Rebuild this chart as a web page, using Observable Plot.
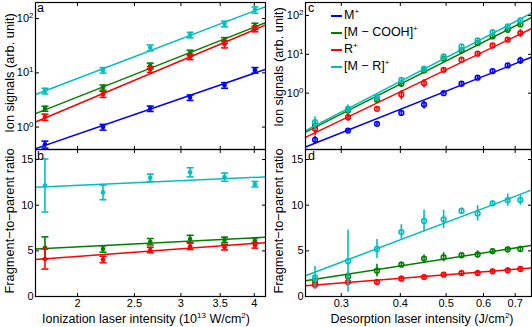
<!DOCTYPE html>
<html><head><meta charset="utf-8">
<script src="https://cdn.jsdelivr.net/npm/d3@7"></script>
<script src="https://cdn.jsdelivr.net/npm/@observablehq/plot@0.6"></script>
<style>
body{margin:0;background:#fff}
#wrap{position:relative;width:532px;height:327px;font-family:"Liberation Sans",Arial,sans-serif;overflow:hidden;background:#fff}
#wrap svg{position:absolute;left:0;top:0}
.t{position:absolute;white-space:nowrap;color:#000;font-size:12.5px;line-height:1}
.t sup{font-size:8px;vertical-align:0;position:relative;top:-5px}
.rot{transform:translate(-50%,-50%) rotate(-90deg);font-size:12.8px}
.hx{transform:translate(-50%,-50%)}
.pl{position:absolute;font-size:12.5px;line-height:1}
.lg{position:absolute;font-size:12.5px;line-height:1;white-space:nowrap}
.lg i{display:inline-block;width:11px;height:0;border-top:2px solid;vertical-align:middle;margin-right:2px}
.lg sup{font-size:8px;vertical-align:0;position:relative;top:-5px}
</style></head><body><div id="wrap"></div>
<script>
// ---------- data ----------
const seriesNames = ["M⁺", "[M − COOH]⁺", "R⁺", "[M − R]⁺"];
const seriesColors = ["#0000ff", "#008000", "#ff0000", "#00bfbf"];

// Panel a/b: ionization laser intensity (10^13 W/cm^2)
const ionX = [1.76, 2.21, 2.66, 3.11, 3.56, 4.01];
const ionDomain = [1.696, 4.18];
const ionTicks = [2, 2.5, 3, 3.5, 4];
const aM = [0.48, 1.0, 2.19, 3.5, 5.9, 11.2];
const aMErr = [0.07, 0.12, 0.25, 0.4, 0.7, 1.3];
const aCOOH = [2.19, 5.37, 13.5, 23.4, 39.8, 73];
const aCOOHErr = [0.23, 0.6, 1.6, 2.7, 4.8, 9];
const aR = [1.53, 4.03, 11.6, 19.8, 33.6, 64.5];
const aRErr = [0.2, 0.5, 1.4, 2.3, 4.8, 7.5];
const aMR = [4.64, 11.2, 29, 50, 80, 145];
const aMRErr = [0.55, 1.3, 3.6, 5.8, 9.5, 19];
const aFitM = [0.4, 11.6];
const aFitCOOH = [1.77, 84];
const aFitR = [1.24, 76];
const aFitMR = [3.98, 166];
const aYDomain = [0.386, 198];
const logTicks = [1, 10, 100];

const bCOOH = [5.33, 5.2, 6.0, 6.3, 6.2, 6.1];
const bCOOHErr = [1.2, 0.35, 0.35, 0.4, 0.3, 0.3];
const bR = [4.1, 4.05, 5.1, 5.5, 5.4, 5.6];
const bRErr = [1.1, 0.35, 0.3, 0.35, 0.3, 0.3];
const bMR = [12.16, 11.4, 13.0, 13.6, 13.07, 12.3];
const bMRErr = [2.9, 0.8, 0.4, 0.5, 0.45, 0.3];
const bFitCOOH = [5.2, 6.5];
const bFitR = [4.05, 5.9];
const bFitMR = [11.97, 13.1];
const ratioDomain = [0, 16.1];
const ratioTicks = [0, 5, 10, 15];

// Panel c/d: desorption laser intensity (J/cm^2)
const desX = [0.264, 0.31, 0.357, 0.402, 0.449, 0.494, 0.539, 0.583, 0.627, 0.675, 0.718];
const desDomain = [0.252, 0.758];
const desTicks = [0.3, 0.4, 0.5, 0.6, 0.7];
const cM = [0.063, 0.109, 0.163, 0.31, 0.51, 1.0, 1.75, 2.5, 3.69, 5.17, 6.96];
const cMErr = [0.015, 0.012, 0.02, 0.06, 0.12, 0.1, 0.15, 0.2, 0.35, 0.6, 1.5];
const cCOOH = [0.147, 0.358, 0.676, 1.75, 3.85, 7.7, 12.6, 19.4, 28.9, 43, 59];
const cCOOHErr = [0.04, 0.07, 0.1, 0.25, 0.5, 1.0, 1.5, 2.2, 3.5, 5, 8];
const cR = [0.121, 0.24, 0.396, 0.925, 1.81, 4.0, 7.25, 10.4, 16.9, 23.8, 35.2];
const cRErr = [0.04, 0.05, 0.04, 0.25, 0.45, 0.4, 0.6, 0.9, 1.5, 2.2, 8];
const cMR = [0.179, 0.396, 0.79, 2.21, 4.26, 8.83, 15.9, 22.8, 37.3, 52.5, 74.8];
const cMRErr = [0.07, 0.1, 0.12, 0.3, 0.6, 1.1, 1.8, 2.5, 4, 6, 9];
const cFitM = [0.041, 8.47];
const cFitCOOH = [0.099, 87.7];
const cFitR = [0.073, 45.7];
const cFitMR = [0.109, 115];
const cYDomain = [0.0355, 216];

const dCOOH = [1.73, 2.2, 2.83, 3.49, 4.15, 4.3, 4.52, 4.6, 4.96, 5.15, 5.2];
const dCOOHErr = [0.4, 0.5, 0.7, 0.3, 0.4, 0.5, 0.3, 0.4, 0.3, 0.3, 0.3];
const dR = [1.29, 1.58, 1.58, 1.95, 2.13, 2.39, 2.57, 2.57, 2.76, 2.87, 3.01];
const dRErr = [0.5, 0.35, 0.3, 0.3, 0.25, 0.25, 0.3, 0.3, 0.25, 0.25, 0.25];
const dMR = [2.09, 3.86, 5.2, 7.06, 8.27, 8.45, 9.37, 9.1, 10.2, 10.55, 10.58];
const dMRErr = [1.2, 3.4, 1.05, 0.8, 1.2, 1.0, 0.35, 0.85, 0.3, 0.68, 0.58];
const dFitCOOH = [1.73, 5.59];
const dFitR = [1.18, 3.12];
const dFitMR = [2.28, 11.65];

// ---------- helpers ----------
const W = 532, H = 327;
const lineSym = (x0, y0, x1, y1) => ({draw(ctx, size) {
  const r = Math.sqrt(size / Math.PI);
  ctx.moveTo(x0 * r, y0 * r); ctx.lineTo(x1 * r, y1 * r);
}});
const capSym = lineSym(-1, 0, 1, 0);

function frameTicks(xt, yt) {
  const o = {stroke: "black", fill: "none", strokeWidth: 1, r: 3.5};
  return [
    Plot.dot(xt, {x: d => d, frameAnchor: "bottom", symbol: lineSym(0, 0, 0, -1), ...o}),
    Plot.dot(xt, {x: d => d, frameAnchor: "top", symbol: lineSym(0, 0, 0, 1), ...o}),
    Plot.dot(yt, {y: d => d, frameAnchor: "left", symbol: lineSym(0, 0, 1, 0), ...o}),
    Plot.dot(yt, {y: d => d, frameAnchor: "right", symbol: lineSym(0, 0, -1, 0), ...o})
  ];
}

function rows(xs, ys, errs, color) {
  return xs.map((x, i) => ({x, y: ys[i], lo: ys[i] - errs[i], hi: ys[i] + errs[i], color}));
}
function fitRows(dom, ends, color) {
  return [{x: dom[0], y: ends[0], color}, {x: dom[1], y: ends[1], color}];
}

function seriesMarks(pts, fit, style) {
  const m = [];
  m.push(Plot.line(fit, {x: "x", y: "y", stroke: "color", strokeWidth: 1.5, clip: true}));
  m.push(Plot.ruleX(pts, {x: "x", y1: "lo", y2: "hi", stroke: "color", strokeWidth: 1.6, clip: true}));
  if (style === "cap") {
    m.push(Plot.dot(pts, {x: "x", y: "lo", symbol: capSym, r: 3.5, stroke: "color", fill: "none", strokeWidth: 1.6, clip: true}));
    m.push(Plot.dot(pts, {x: "x", y: "hi", symbol: capSym, r: 3.5, stroke: "color", fill: "none", strokeWidth: 1.6, clip: true}));
    m.push(Plot.dot(pts, {x: "x", y: "y", r: 2.3, fill: "color", stroke: "none"}));
  } else {
    m.push(Plot.dot(pts, {x: "x", y: "y", r: 2.4, stroke: "color", fill: "none", strokeWidth: 1.5}));
  }
  return m;
}

function panel(opts) {
  const marks = [];
  opts.series.forEach(s => marks.push(...seriesMarks(s.pts, s.fit, opts.style)));
  marks.push(...frameTicks(opts.xTicks, opts.yTicks));
  marks.push(Plot.frame({stroke: "black", strokeWidth: 1.2}));
  marks.push(Plot.axisY({anchor: "left", ticks: opts.yTicks, tickSize: 0, tickPadding: 2,
    tickFormat: opts.yFormat, label: null}));
  if (opts.xLabels) {
    marks.push(Plot.axisX({anchor: "bottom", ticks: opts.xTicks, tickSize: 0, tickPadding: 3,
      tickFormat: d => String(d), label: null}));
  } else {
    marks.push(Plot.axisX({anchor: "bottom", ticks: [], label: null}));
  }
  const svg = Plot.plot({
    width: W, height: H,
    marginLeft: opts.box[0], marginRight: W - opts.box[1],
    marginTop: opts.box[2], marginBottom: H - opts.box[3],
    x: {type: "log", domain: opts.xDomain},
    y: {type: opts.yType, domain: opts.yDomain},
    color: {type: "identity"},
    style: {background: "transparent", overflow: "visible", fontFamily: "'Liberation Sans', Arial, sans-serif", fontSize: "11px", color: "black"},
    marks
  });
  // superscript exponents in log tick labels
  svg.querySelectorAll("text").forEach(t => {
    const m = /^10\^(-?\d+)$/.exec(t.textContent);
    if (m) {
      t.textContent = "10";
      const ts = document.createElementNS("http://www.w3.org/2000/svg", "tspan");
      ts.setAttribute("dy", "-0.5em");
      ts.setAttribute("font-size", "8");
      ts.textContent = m[1];
      t.appendChild(ts);
    }
  });
  return svg;
}

const logFmt = d => "10^" + Math.round(Math.log10(d));
const wrap = document.getElementById("wrap");

const aSeries = [
  {pts: rows(ionX, aM, aMErr, seriesColors[0]), fit: fitRows(ionDomain, aFitM, seriesColors[0])},
  {pts: rows(ionX, aCOOH, aCOOHErr, seriesColors[1]), fit: fitRows(ionDomain, aFitCOOH, seriesColors[1])},
  {pts: rows(ionX, aR, aRErr, seriesColors[2]), fit: fitRows(ionDomain, aFitR, seriesColors[2])},
  {pts: rows(ionX, aMR, aMRErr, seriesColors[3]), fit: fitRows(ionDomain, aFitMR, seriesColors[3])}
];
const bSeries = [
  {pts: rows(ionX, bCOOH, bCOOHErr, seriesColors[1]), fit: fitRows(ionDomain, bFitCOOH, seriesColors[1])},
  {pts: rows(ionX, bR, bRErr, seriesColors[2]), fit: fitRows(ionDomain, bFitR, seriesColors[2])},
  {pts: rows(ionX, bMR, bMRErr, seriesColors[3]), fit: fitRows(ionDomain, bFitMR, seriesColors[3])}
];
const cSeries = [
  {pts: rows(desX, cM, cMErr, seriesColors[0]), fit: fitRows(desDomain, cFitM, seriesColors[0])},
  {pts: rows(desX, cCOOH, cCOOHErr, seriesColors[1]), fit: fitRows(desDomain, cFitCOOH, seriesColors[1])},
  {pts: rows(desX, cR, cRErr, seriesColors[2]), fit: fitRows(desDomain, cFitR, seriesColors[2])},
  {pts: rows(desX, cMR, cMRErr, seriesColors[3]), fit: fitRows(desDomain, cFitMR, seriesColors[3])}
];
const dSeries = [
  {pts: rows(desX, dCOOH, dCOOHErr, seriesColors[1]), fit: fitRows(desDomain, dFitCOOH, seriesColors[1])},
  {pts: rows(desX, dR, dRErr, seriesColors[2]), fit: fitRows(desDomain, dFitR, seriesColors[2])},
  {pts: rows(desX, dMR, dMRErr, seriesColors[3]), fit: fitRows(desDomain, dFitMR, seriesColors[3])}
];

wrap.appendChild(panel({box: [35, 265, 2, 149], xDomain: ionDomain, yType: "log", yDomain: aYDomain,
  xTicks: ionTicks, yTicks: logTicks, yFormat: logFmt, xLabels: false, style: "cap", series: aSeries}));
wrap.appendChild(panel({box: [35, 265, 149, 296], xDomain: ionDomain, yType: "linear", yDomain: ratioDomain,
  xTicks: ionTicks, yTicks: ratioTicks, yFormat: d => String(d), xLabels: true, style: "cap", series: bSeries}));
wrap.appendChild(panel({box: [305, 531, 2, 149], xDomain: desDomain, yType: "log", yDomain: cYDomain,
  xTicks: desTicks, yTicks: logTicks, yFormat: logFmt, xLabels: false, style: "ring", series: cSeries}));
wrap.appendChild(panel({box: [305, 531, 149, 296], xDomain: desDomain, yType: "linear", yDomain: ratioDomain,
  xTicks: desTicks, yTicks: ratioTicks, yFormat: d => String(d), xLabels: true, style: "ring", series: dSeries}));

// ---------- text overlays ----------
function addText(html, cls, x, y) {
  const el = document.createElement("div");
  el.className = cls;
  el.innerHTML = html;
  el.style.left = x + "px"; el.style.top = y + "px";
  wrap.appendChild(el);
  return el;
}
addText("Ion signals (arb. unit)", "t rot", 10, 73);
addText("Fragment−to−parent ratio", "t rot", 10, 221);
addText("Ion signals (arb. unit)", "t rot", 279, 67);
addText("Fragment−to−parent ratio", "t rot", 279, 221);
addText("Ionization laser intensity (10<sup>13</sup> W/cm<sup>2</sup>)", "t hx", 146, 319);
addText("Desorption laser intensity (J/cm<sup>2</sup>)", "t hx", 422, 319);
addText("a", "pl", 37, 2);
addText("b", "pl", 37, 150);
addText("c", "pl", 308, 2);
addText("d", "pl", 308, 150);
const lgY = [9, 26, 43, 60];
seriesNames.forEach((n, i) => {
  const html = n.replace("⁺", "<sup>+</sup>");
  addText(`<i style="border-color:${seriesColors[i]}"></i>${html}`, "lg", 331, lgY[i]);
});
</script></body></html>
